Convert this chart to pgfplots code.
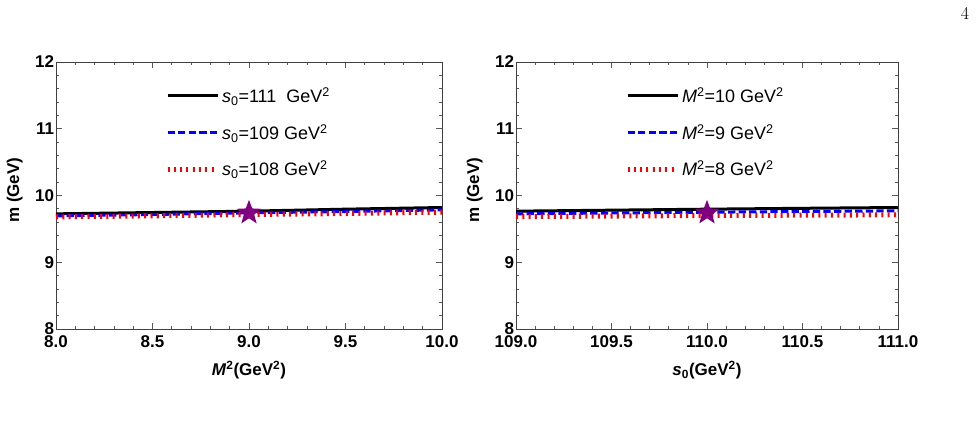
\documentclass[border=0pt]{standalone}
\usepackage{pgfplots}
\pgfplotsset{compat=1.18}
\usepackage{fontspec}
\newfontfamily\arial{Liberation Sans}

\definecolor{mpurple}{rgb}{0.5,0,0.5}

% filled five-pointed star
\pgfdeclareplotmark{fstar}{%
  \pgfpathmoveto{\pgfpointpolar{90}{\pgfplotmarksize}}%
  \pgfpathlineto{\pgfpointpolar{126}{0.42\pgfplotmarksize}}%
  \pgfpathlineto{\pgfpointpolar{162}{\pgfplotmarksize}}%
  \pgfpathlineto{\pgfpointpolar{198}{0.42\pgfplotmarksize}}%
  \pgfpathlineto{\pgfpointpolar{234}{\pgfplotmarksize}}%
  \pgfpathlineto{\pgfpointpolar{270}{0.42\pgfplotmarksize}}%
  \pgfpathlineto{\pgfpointpolar{306}{\pgfplotmarksize}}%
  \pgfpathlineto{\pgfpointpolar{342}{0.42\pgfplotmarksize}}%
  \pgfpathlineto{\pgfpointpolar{18}{\pgfplotmarksize}}%
  \pgfpathlineto{\pgfpointpolar{54}{0.42\pgfplotmarksize}}%
  \pgfpathclose
  \pgfusepathqfill}

\pgfplotsset{
  panel/.style={
    anchor=south west, scale only axis, height=267bp,
    ymin=8, ymax=12, ytick={8,9,10,11,12},
    minor x tick num=4, minor y tick num=4,
    tick align=inside, tick pos=both,
    major tick length=6bp, minor tick length=3bp,
    every tick/.style={black!65, line width=0.7bp},
    axis line style={black!75, line width=0.8bp},
    tick label style={font=\arial\bfseries\fontsize{17bp}{20bp}\selectfont},
    /pgf/number format/assume math mode=true,
    xticklabel style={yshift=-3bp, /pgf/number format/fixed,
      /pgf/number format/fixed zerofill, /pgf/number format/precision=1},
    yticklabel style={xshift=1.5bp},
    label style={font=\arial\bfseries\fontsize{17bp}{20bp}\selectfont},
    xlabel style={at={(axis description cs:0.5,0)}, anchor=center, yshift=-41bp},
    legend style={draw=none, fill=none, inner sep=0pt,
      font=\arial\fontsize{18bp}{21bp}\selectfont,
      row sep=16bp, nodes={inner sep=2bp}},
    legend cell align=left,
    legend image code/.code={\draw[##1] (0bp,0bp) -- (50bp,0bp);},
  },
  solidk/.style={black, line width=3bp},
  dashb/.style={blue, line width=3bp, dash pattern=on 7.3bp off 3.3bp},
  dotr/.style={red, line width=5bp, dash pattern=on 2bp off 4.3bp},
  starmark/.style={only marks, mark=fstar, mark size=13bp, color=mpurple},
}

\begin{document}
\begin{tikzpicture}
\path[use as bounding box] (0,0) rectangle (976bp,440bp);
\node[font=\fontsize{18bp}{20bp}\selectfont] at (965bp,427bp) {4};

% left panel: mass versus Borel parameter
\begin{axis}[panel, at={(56bp,111bp)}, width=386bp,
  xmin=8, xmax=10, xtick={8,8.5,9,9.5,10},
  xlabel={\textit{M}\textsuperscript{2}(GeV\textsuperscript{2})},
  ylabel={m (GeV)},
  ylabel style={at={(axis description cs:-0.107,0.52)}, anchor=center},
  legend style={at={(axis description cs:0.282,0.912)}, anchor=north west}]
\addplot[solidk] coordinates {(8.0,9.725) (8.5,9.745) (9.0,9.765) (9.5,9.795) (10.0,9.82)};
\addlegendentry{\textit{s}\textsubscript{0}=111\ \ GeV\textsuperscript{2}}
\addplot[dashb] coordinates {(8.0,9.695) (8.5,9.715) (9.0,9.74) (9.5,9.76) (10.0,9.785)};
\addlegendentry{\textit{s}\textsubscript{0}=109 GeV\textsuperscript{2}}
\addplot[dotr] coordinates {(8.0,9.68) (8.5,9.695) (9.0,9.715) (9.5,9.73) (10.0,9.75)};
\addlegendentry{\textit{s}\textsubscript{0}=108 GeV\textsuperscript{2}}
\addplot[starmark, forget plot] coordinates {(9.0,9.74)};
\end{axis}

% right panel: mass versus threshold parameter
\begin{axis}[panel, at={(516bp,111bp)}, width=382bp,
  xmin=109, xmax=111, xtick={109,109.5,110,110.5,111},
  xlabel={\textit{s}\textsubscript{0}(GeV\textsuperscript{2})},
  ylabel={m (GeV)},
  ylabel style={at={(axis description cs:-0.108,0.52)}, anchor=center},
  legend style={at={(axis description cs:0.285,0.912)}, anchor=north west}]
\addplot[solidk] coordinates {(109,9.765) (109.5,9.78) (110,9.795) (110.5,9.808) (111,9.82)};
\addlegendentry{\textit{M}\textsuperscript{2}=10 GeV\textsuperscript{2}}
\addplot[dashb] coordinates {(109,9.725) (109.5,9.738) (110,9.75) (110.5,9.76) (111,9.77)};
\addlegendentry{\textit{M}\textsuperscript{2}=9 GeV\textsuperscript{2}}
\addplot[dotr] coordinates {(109,9.683) (109.5,9.692) (110,9.70) (110.5,9.705) (111,9.71)};
\addlegendentry{\textit{M}\textsuperscript{2}=8 GeV\textsuperscript{2}}
\addplot[starmark, forget plot] coordinates {(110,9.74)};
\end{axis}
\end{tikzpicture}
\end{document}
